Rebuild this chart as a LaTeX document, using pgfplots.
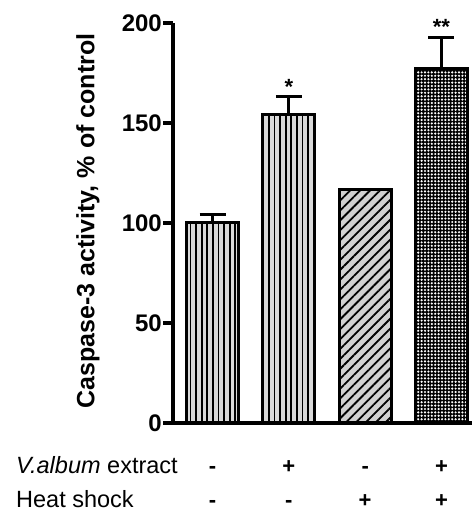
\documentclass[border=0pt]{standalone}
\usepackage{fontspec}
\setmainfont{Liberation Sans}
\usepackage{pgfplots}
\pgfplotsset{compat=1.18}
\usetikzlibrary{patterns,patterns.meta}
\tikzset{pm/.style={anchor=base, font=\bfseries\fontsize{22bp}{22bp}\selectfont}}
\begin{document}
\begin{tikzpicture}
\useasboundingbox (0,0) rectangle (472bp,511bp);
\begin{axis}[
  at={(173bp,88bp)}, anchor=south west,
  width=299bp, height=400bp, scale only axis,
  xmin=0.482, xmax=4.4, ymin=0, ymax=200,
  axis x line*=bottom, axis y line*=left,
  axis line style={line width=4.8bp},
  xtick=\empty,
  ytick={0,50,100,150,200},
  tick align=outside,
  major tick length=10bp,
  every tick/.style={line width=4bp, black},
  /pgf/number format/assume math mode=true,
  yticklabel={\fontsize{24bp}{24bp}\selectfont\bfseries\pgfmathprintnumber{\tick}},
  yticklabel style={inner sep=1bp},
  clip=false,
  bar width=0.68,
]
\addplot[ybar, bar shift=0pt, draw=black, line width=3bp, fill=black!15,
  postaction={pattern={Lines[angle=90,distance=5.6bp,line width=1.8bp]}, pattern color=black},
  error bars/.cd, y dir=plus, y explicit,
  error bar style={line width=3bp, black},
  error mark options={rotate=90, line width=3bp, mark size=13bp, black}]
  coordinates {(1,100) +- (0,4)};
\addplot[ybar, bar shift=0pt, draw=black, line width=3bp, fill=black!15,
  postaction={pattern={Lines[angle=90,distance=5.6bp,line width=1.8bp]}, pattern color=black},
  error bars/.cd, y dir=plus, y explicit,
  error bar style={line width=3bp, black},
  error mark options={rotate=90, line width=3bp, mark size=13bp, black}]
  coordinates {(2,154) +- (0,9)};
\addplot[ybar, bar shift=0pt, draw=black, line width=3bp, fill=black!18,
  postaction={pattern={Lines[angle=45,distance=7bp,line width=1.8bp]}, pattern color=black}]
  coordinates {(3,116.5)};
\addplot[ybar, bar shift=0pt, draw=black, line width=3bp, fill=black,
  postaction={pattern={Dots[distance=3.4bp,radius=1.2bp]}, pattern color=white},
  error bars/.cd, y dir=plus, y explicit,
  error bar style={line width=3bp, black},
  error mark options={rotate=90, line width=3bp, mark size=13bp, black}]
  coordinates {(4,177) +- (0,15.5)};
\node[font=\bfseries\fontsize{22bp}{22bp}\selectfont] at (axis cs:2,168) {*};
\node[font=\bfseries\fontsize{22bp}{22bp}\selectfont] at (axis cs:4,198) {**};
\node[pm] at (axis cs:1,-25) {-};
\node[pm] at (axis cs:2,-25) {+};
\node[pm] at (axis cs:3,-25) {-};
\node[pm] at (axis cs:4,-25) {+};
\node[pm] at (axis cs:1,-42) {-};
\node[pm] at (axis cs:2,-42) {-};
\node[pm] at (axis cs:3,-42) {+};
\node[pm] at (axis cs:4,-42) {+};
\end{axis}
\node[rotate=90, font=\bfseries\fontsize{25bp}{25bp}\selectfont] at (88bp,290bp) {Caspase-3 activity, \% of control};
\node[anchor=base west, font=\fontsize{23.5bp}{23.5bp}\selectfont, inner sep=0pt] at (16bp,38bp) {\textit{V.album} extract};
\node[anchor=base west, font=\fontsize{23.5bp}{23.5bp}\selectfont, inner sep=0pt] at (16bp,4bp) {Heat shock};
\end{tikzpicture}
\end{document}
